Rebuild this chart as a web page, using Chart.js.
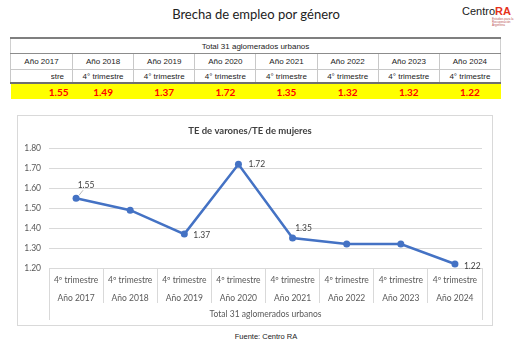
<!DOCTYPE html>
<html lang="es">
<head>
<meta charset="utf-8">
<title>Brecha de empleo por género</title>
<script src="https://cdn.jsdelivr.net/npm/chart.js@4.4.1/dist/chart.umd.min.js"></script>
<style>
  html, body { margin: 0; padding: 0; background: #fff; }
  body { width: 523px; height: 348px; position: relative; overflow: hidden; }
  .title {
    position: absolute; left: 0; width: 512px; top: 6px; text-align: center;
    font: 13px Lato, sans-serif; color: #222;
  }
  .logo { position: absolute; left: 462px; top: 5px; font: 11px "Liberation Sans", Arial, sans-serif; color: #1a1a1a; }
  .logo b { color: #e5321b; font-weight: bold; }
  .logo small { display: block; font-size: 3px; line-height: 3px; color: #b55; margin-left: 30px; margin-top: 1px; }
  table {
    position: absolute; left: 10px; top: 37px; width: 491px;
    border-collapse: collapse; table-layout: fixed;
    font: 8px "Liberation Sans", Arial, sans-serif; color: #222;
  }
  td { padding: 0; text-align: center; white-space: nowrap; overflow: hidden; }
  tr.group td { height: 14px; border-top: 2px solid #7f7f7f; border-bottom: 1px solid #8c8c8c; border-left: 1px solid #d0d0d0; border-right: 1px solid #d0d0d0; }
  tr.years td { height: 15px; border: 1px solid #c8c8c8; }
  tr.period td { height: 12px; border: 1px solid #c8c8c8; border-bottom: 2px solid #6f6f6f; }
  tr.values td {
    height: 15px; background: #ffff00; color: #ff0000;
    font: bold 10px Lato, sans-serif;
  }
  tr.values td:first-child { text-align: right; padding-right: 4px; }
  .cut { display: inline-block; width: 13px; overflow: hidden; direction: rtl; vertical-align: bottom; }
  .cut span { direction: ltr; unicode-bidi: bidi-override; }
  .box {
    position: absolute; left: 17px; top: 115px; width: 476px; height: 211px;
    border: 1px solid #d9d9d9; box-sizing: border-box;
  }
  .box canvas { position: absolute; left: 0; top: 0; }
  .source {
    position: absolute; left: 0; width: 532px; top: 332px; text-align: center;
    font: 7.5px "Liberation Sans", Arial, sans-serif; color: #222;
  }
</style>
</head>
<body>
<div class="title">Brecha de empleo por género</div>
<div class="logo">Centro<b>RA</b><small>Estudios para la<br>Recuperación Argentina</small></div>

<table id="dataTable"></table>

<div class="box">
  <canvas id="gapChart" width="474" height="209"></canvas>
</div>
<div class="source">Fuente: Centro RA</div>

<script>
// Employment rate of men divided by employment rate of women, Q4 of each year
const years = ['Año 2017', 'Año 2018', 'Año 2019', 'Año 2020', 'Año 2021', 'Año 2022', 'Año 2023', 'Año 2024'];
const tablePeriod = '4° trimestre';
const chartPeriod = '4º trimestre';
const groupLabel = 'Total 31 aglomerados urbanos';
const ratio = [1.55, 1.49, 1.37, 1.72, 1.35, 1.32, 1.32, 1.22];
const yMin = 1.2;
const yMax = 1.8;
const yStep = 0.1;

const lineColor = '#4472c4';
const gridColor = '#d9d9d9';
const textColor = '#595959';

// Summary table above the chart
const table = document.getElementById('dataTable');
let html = '<colgroup><col style="width:62px">' + years.slice(1).map(() => '<col>').join('') + '</colgroup>';
html += `<tr class="group"><td colspan="${years.length}">${groupLabel}</td></tr>`;
html += '<tr class="years">' + years.map(y => `<td>${y}</td>`).join('') + '</tr>';
html += '<tr class="period">' + years.map((y, i) =>
    i === 0 ? `<td style="text-align:right;padding-right:8px"><span class="cut"><span>${tablePeriod}</span></span></td>` : `<td>${tablePeriod}</td>`
).join('') + '</tr>';
html += '<tr class="values">' + ratio.map(v => `<td>${v.toFixed(2)}</td>`).join('') + '</tr>';
table.innerHTML = html;

// Which points carry a value label, and where it sits relative to the point
const labelSpots = [
    { index: 0, dx: 10, dy: -13, align: 'center', leader: true },
    { index: 2, dx: 9, dy: 1, align: 'left' },
    { index: 3, dx: 10, dy: 0, align: 'left' },
    { index: 4, dx: 11, dy: -10, align: 'center' },
    { index: 7, dx: 9, dy: 2, align: 'left' }
];

const pointLabels = {
    id: 'pointLabels',
    afterDatasetsDraw(chart) {
        const meta = chart.getDatasetMeta(0);
        const c = chart.ctx;
        c.save();
        c.font = '8.5px Lato, sans-serif';
        c.fillStyle = '#404040';
        c.textBaseline = 'middle';
        labelSpots.forEach(spot => {
            const pt = meta.data[spot.index];
            if (spot.leader) {
                c.strokeStyle = '#a6a6a6';
                c.lineWidth = 0.8;
                c.beginPath();
                c.moveTo(pt.x + 3, pt.y - 3);
                c.lineTo(pt.x + 7, pt.y - 8);
                c.stroke();
            }
            c.textAlign = spot.align;
            c.fillText(ratio[spot.index].toFixed(2), pt.x + spot.dx, pt.y + spot.dy);
        });
        c.restore();
    }
};

Chart.defaults.font.family = 'Lato, sans-serif';
Chart.defaults.color = textColor;

new Chart(document.getElementById('gapChart'), {
    type: 'line',
    data: {
        labels: years.map(y => [chartPeriod, y]),
        datasets: [{
            data: ratio,
            borderColor: lineColor,
            backgroundColor: lineColor,
            borderWidth: 2.5,
            pointRadius: 3.5,
            pointBorderWidth: 0,
            tension: 0,
            clip: false
        }]
    },
    options: {
        responsive: false,
        animation: false,
        layout: { padding: { top: 0, left: 0, right: 10, bottom: 5 } },
        plugins: {
            legend: { display: false },
            tooltip: { enabled: false },
            title: {
                display: true,
                text: 'TE de varones/TE de mujeres',
                color: '#404040',
                font: { size: 9.5, weight: 'bold', lineHeight: 1.2 },
                padding: { top: 9, bottom: 12 }
            }
        },
        scales: {
            y: {
                min: yMin,
                max: yMax,
                afterFit: scale => { scale.width = 31; },
                ticks: {
                    stepSize: yStep,
                    padding: 8,
                    font: { size: 8.5 },
                    callback: v => v.toFixed(2)
                },
                grid: { color: gridColor, drawTicks: false },
                border: { display: false }
            },
            x: {
                weight: 0,
                offset: true,
                afterFit: scale => { scale.height = 35; },
                ticks: {
                    autoSkip: false,
                    maxRotation: 0,
                    padding: -32,
                    font: { size: 8.5, lineHeight: 2.1 }
                },
                grid: {
                    offset: true,
                    drawOnChartArea: false,
                    tickLength: 35,
                    tickColor: gridColor,
                    color: gridColor
                },
                border: { display: false }
            },
            x2: {
                type: 'category',
                position: 'bottom',
                weight: 1,
                offset: true,
                labels: [groupLabel],
                afterFit: scale => { scale.height = 17; },
                ticks: {
                    padding: -11,
                    font: { size: 8.5, lineHeight: 1.2 }
                },
                grid: {
                    offset: true,
                    drawOnChartArea: false,
                    tickLength: 17,
                    tickColor: gridColor,
                    color: gridColor
                },
                border: { display: false }
            }
        }
    },
    plugins: [pointLabels]
});
</script>
</body>
</html>
